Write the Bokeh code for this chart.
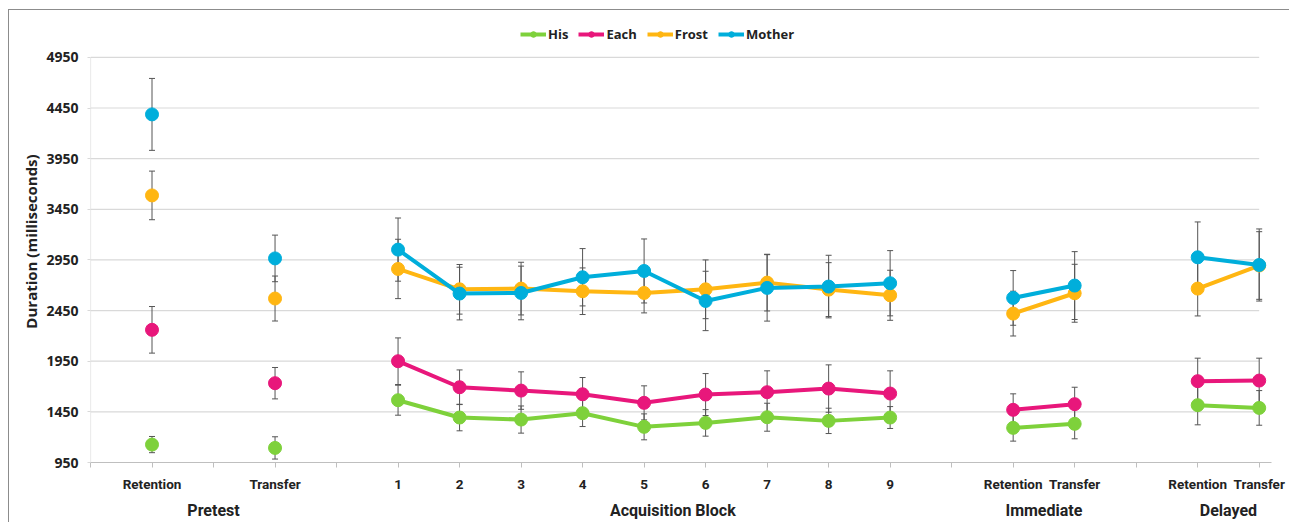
import numpy as np
from bokeh.plotting import figure
from bokeh.models import FixedTicker, LinearAxis, Legend, LegendItem, Range1d
from bokeh.embed import file_html
from bokeh.resources import INLINE

nan = float("nan")

# x-axis category slots (empty strings are the blank categories of the original)
categories = ["", "Retention", "", "Transfer", "",
              "1", "2", "3", "4", "5", "6", "7", "8", "9", "",
              "Retention", "Transfer", "", "Retention", "Transfer"]
slot_groups = ["", "Pretest", "Pretest", "Pretest", "",
               "Acquisition  Block", "Acquisition  Block", "Acquisition  Block",
               "Acquisition  Block", "Acquisition  Block", "Acquisition  Block",
               "Acquisition  Block", "Acquisition  Block", "Acquisition  Block",
               "Acquisition  Block",
               "Immediate", "Immediate", "", "Delayed", "Delayed"]
groups = ["Pretest", "Acquisition  Block", "Immediate", "Delayed"]

y_ticks = [950, 1450, 1950, 2450, 2950, 3450, 3950, 4450, 4950]

series_names = ["His", "Each", "Frost", "Mother"]
series_colors = ["#7ED13B", "#E8177B", "#FFB612", "#00AEDB"]

his = [nan, 1127, nan, 1094, nan, 1565, 1394, 1374, 1437, 1302, 1341, 1397, 1361, 1394, nan, 1292, 1332, nan, 1516, 1489]
his_err = [nan, 80, nan, 110, nan, 148, 131, 134, 132, 128, 131, 138, 125, 108, nan, 131, 148, nan, 194, 171]
each = [nan, 2260, nan, 1733, nan, 1950, 1693, 1660, 1624, 1539, 1621, 1644, 1680, 1631, nan, 1470, 1526, nan, 1753, 1759]
each_err = [nan, 230, nan, 155, nan, 230, 171, 185, 165, 168, 207, 211, 234, 224, nan, 158, 167, nan, 227, 221]
frost = [nan, 3587, nan, 2569, nan, 2861, 2660, 2667, 2641, 2624, 2660, 2726, 2657, 2601, nan, 2420, 2621, nan, 2667, 2895]
frost_err = [nan, 240, nan, 222, nan, 293, 245, 260, 230, 197, 290, 280, 266, 247, nan, 221, 286, nan, 270, 334]
mother = [nan, 4387, nan, 2965, nan, 3052, 2618, 2624, 2779, 2841, 2545, 2674, 2687, 2720, nan, 2575, 2697, nan, 2976, 2900]
mother_err = [nan, 355, nan, 230, nan, 312, 260, 265, 283, 316, 293, 328, 309, 322, nan, 270, 335, nan, 349, 356]

values = [his, each, frost, mother]
errors = [his_err, each_err, frost_err, mother_err]

xs = list(range(len(categories)))
last = len(categories) - 1
y0, y1 = y_ticks[0], y_ticks[-1]

p = figure(width=1289, height=522, output_backend="svg", toolbar_location=None,
           x_range=Range1d(0, last + 0.2), y_range=Range1d(y0, y1 + 364),
           min_border_left=90, min_border_right=18, min_border_top=20, min_border_bottom=58)
p.outline_line_color = None
p.xgrid.visible = False
p.ygrid.visible = False
# transparent canvas so the page-level chart border (left/top edges) shows through
p.background_fill_color = None
p.border_fill_color = None
p.styles = {"background": "linear-gradient(#8c8c8c, #8c8c8c) 8px 9px / 1px 100% no-repeat, "
                          "linear-gradient(#8c8c8c, #8c8c8c) 8px 9px / 100% 1px no-repeat, white"}

# gridlines and y axis line
p.segment(x0=[0] * len(y_ticks), x1=[last] * len(y_ticks), y0=y_ticks, y1=y_ticks,
          line_color="#d9d9d9", line_width=1.2)
p.segment(x0=[0], x1=[0], y0=[y0], y1=[y1], line_color="#d9d9d9", line_width=1.2)

# error bars (under the series)
for v, e in zip(values, errors):
    v = np.array(v, dtype=float); e = np.array(e, dtype=float)
    ok = ~np.isnan(v)
    x = np.array(xs)[ok]
    lo = (v - e)[ok]; hi = (v + e)[ok]
    p.segment(x0=x, x1=x, y0=lo, y1=hi, line_color="#555555", line_width=1)
    p.scatter(np.concatenate([x, x]), np.concatenate([lo, hi]), marker="dash",
              size=6, line_color="#555555", line_width=1)

items = []
for name, col, v in zip(series_names, series_colors, values):
    lr = p.line(xs, v, line_color=col, line_width=4)
    sr = p.scatter(xs, v, marker="circle", size=13, fill_color=col, line_color=col)
    items.append(LegendItem(label=name, renderers=[lr, sr]))

# y axis
ya = p.yaxis[0]
ya.ticker = FixedTicker(ticks=y_ticks)
ya.axis_label = "Duration (milliseconds)"
ya.axis_label_text_font = "Open Sans"
ya.axis_label_text_font_style = "bold"
ya.axis_label_text_font_size = "15px"
ya.axis_label_text_color = "#222222"
ya.axis_label_standoff = 2
ya.major_label_text_font = "Open Sans"
ya.major_label_text_font_style = "bold"
ya.major_label_text_font_size = "14px"
ya.major_label_text_color = "#222222"
ya.axis_line_color = None
ya.major_tick_line_color = "#d9d9d9"
ya.major_tick_out = 3
ya.major_tick_in = 0
ya.minor_tick_line_color = None
ya.major_label_standoff = 9

# x axis (categories)
xa = p.xaxis[0]
xa.ticker = FixedTicker(ticks=xs)
xa.major_label_overrides = {i: c for i, c in enumerate(categories)}
xa.axis_line_color = "#bfbfbf"
xa.major_tick_line_color = "#bfbfbf"
xa.major_tick_out = 5
xa.major_tick_in = 0
xa.minor_tick_line_color = None
xa.major_label_standoff = 8
xa.major_label_text_font = "Roboto"
xa.major_label_text_font_style = "bold"
xa.major_label_text_font_size = "13.5px"
xa.major_label_text_color = "#222222"

# group axis
centers = [float(np.mean([i for i, g in enumerate(slot_groups) if g == grp])) for grp in groups]
ga = LinearAxis(ticker=FixedTicker(ticks=centers),
                major_label_overrides={c: g for c, g in zip(centers, groups)})
ga.axis_line_color = None
ga.major_tick_line_color = None
ga.minor_tick_line_color = None
ga.major_tick_out = 0
ga.major_tick_in = 0
ga.major_label_standoff = 6
ga.major_label_text_font = "Roboto"
ga.major_label_text_font_style = "bold"
ga.major_label_text_font_size = "16px"
ga.major_label_text_color = "#222222"
p.add_layout(ga, "below")

legend = Legend(items=items, orientation="horizontal", location=(430, 419),
                label_text_font="Open Sans", label_text_font_style="bold",
                label_text_font_size="13px", label_text_color="#222222",
                glyph_width=26, glyph_height=14, label_standoff=2, spacing=10,
                padding=0, margin=0, border_line_color=None, background_fill_alpha=0)
p.add_layout(legend)

open("out.html", "w").write(file_html(p, INLINE))
